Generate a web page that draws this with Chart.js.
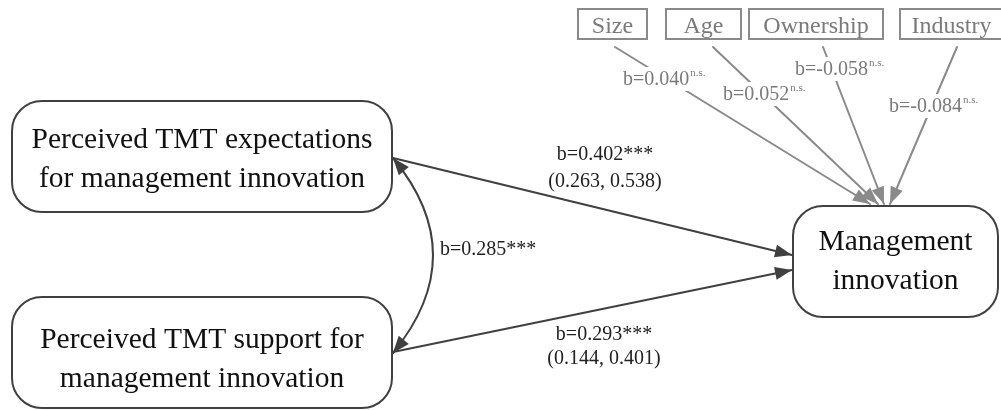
<!DOCTYPE html>
<html>
<head>
<meta charset="utf-8">
<script src="https://cdn.jsdelivr.net/npm/chart.js@4.4.0/dist/chart.umd.min.js"></script>
<style>
  body { margin: 0; background: #fff; }
  #wrap { width: 1001px; height: 410px; position: relative; }
</style>
</head>
<body>
<div id="wrap"><canvas id="pathCanvas"></canvas></div>
<script>
// model data
const constructs = [
  ['Perceived TMT expectations', 'for management innovation'],
  ['Perceived TMT support for', 'management innovation'],
  ['Management', 'innovation']
];
const controls = ['Size', 'Age', 'Ownership', 'Industry'];
const controlB = [0.040, 0.052, -0.058, -0.084];
const controlSig = ['n.s.', 'n.s.', 'n.s.', 'n.s.'];
const pathB = [0.402, 0.293];
const pathLow = [0.263, 0.144];
const pathHigh = [0.538, 0.401];
const pathSig = ['***', '***'];
const corrB = 0.285;
const corrSig = '***';

// layout (in scale units, same as pixels here)
const boxes = [
  { x0: 12, y0: 101, x1: 392, y1: 212, r: 30, dy: 3 },
  { x0: 12, y0: 297, x1: 392, y1: 408, r: 30, dy: 7 },
  { x0: 793, y0: 206, x1: 998, y1: 317, r: 30, dy: 0 }
];
const ctrlBoxes = [
  { x0: 578, x1: 647 }, { x0: 666, x1: 741 }, { x0: 749, x1: 883 }, { x0: 900, x1: 1003 }
];
const ctrlTop = 9, ctrlBottom = 39;
const ctrlStart = [615, 713, 823, 957];
const ctrlTip = [870, 878, 884, 890];
const ctrlLabelPos = [[623, 80], [723, 95], [795, 70], [889, 107]];

const DARK = '#404040';
const GRAY = '#8a8a8a';
const GRAY_TXT = '#7a7a7a';
const SERIF = '"Liberation Serif", "Times New Roman", serif';

function arrowHead(ctx, fx, fy, tx, ty, color) {
  const a = Math.atan2(ty - fy, tx - fx);
  const len = 17, half = 6.5;
  ctx.save();
  ctx.fillStyle = color;
  ctx.beginPath();
  ctx.moveTo(tx, ty);
  ctx.lineTo(tx - len * Math.cos(a) + half * Math.sin(a), ty - len * Math.sin(a) - half * Math.cos(a));
  ctx.lineTo(tx - len * Math.cos(a) - half * Math.sin(a), ty - len * Math.sin(a) + half * Math.cos(a));
  ctx.closePath();
  ctx.fill();
  ctx.restore();
}

function roundBox(ctx, x0, y0, x1, y1, r) {
  ctx.beginPath();
  ctx.moveTo(x0 + r, y0);
  ctx.arcTo(x1, y0, x1, y1, r);
  ctx.arcTo(x1, y1, x0, y1, r);
  ctx.arcTo(x0, y1, x0, y0, r);
  ctx.arcTo(x0, y0, x1, y0, r);
  ctx.closePath();
}

const diagramPlugin = {
  id: 'diagram',
  afterDatasetsDraw(chart) {
    const ctx = chart.ctx;
    const xs = chart.scales.x, ys = chart.scales.y;
    const X = v => xs.getPixelForValue(v);
    const Y = v => ys.getPixelForValue(v);
    ctx.save();
    ctx.lineCap = 'round';

    // control arrows
    controls.forEach((name, i) => {
      const sx = X(ctrlStart[i]), sy = Y(ctrlBottom + 8);
      const tx = X(ctrlTip[i]), ty = Y(boxes[2].y0 - 2);
      ctx.strokeStyle = GRAY;
      ctx.lineWidth = 2;
      ctx.beginPath();
      ctx.moveTo(sx, sy);
      ctx.lineTo(tx, ty);
      ctx.stroke();
      arrowHead(ctx, sx, sy, tx, ty, GRAY);
    });

    // control boxes
    controls.forEach((name, i) => {
      const b = ctrlBoxes[i];
      ctx.fillStyle = '#fff';
      ctx.fillRect(X(b.x0), Y(ctrlTop), X(b.x1) - X(b.x0), Y(ctrlBottom) - Y(ctrlTop));
      ctx.strokeStyle = GRAY;
      ctx.lineWidth = 2;
      ctx.strokeRect(X(b.x0), Y(ctrlTop), X(b.x1) - X(b.x0), Y(ctrlBottom) - Y(ctrlTop));
      ctx.fillStyle = GRAY_TXT;
      ctx.font = '24px ' + SERIF;
      ctx.textAlign = 'center';
      ctx.textBaseline = 'alphabetic';
      ctx.fillText(name, X((b.x0 + b.x1) / 2), Y(ctrlTop + 24));
    });

    // control coefficient labels
    controls.forEach((name, i) => {
      const main = 'b=' + controlB[i].toFixed(3);
      const [lx, ly] = ctrlLabelPos[i];
      ctx.font = '20px ' + SERIF;
      const w1 = ctx.measureText(main).width;
      ctx.font = '11px ' + SERIF;
      const w2 = ctx.measureText(controlSig[i]).width;
      ctx.fillStyle = '#fff';
      ctx.fillRect(X(lx) - 3, Y(ly) - 13, w1 + w2 + 6, 24);
      ctx.fillStyle = GRAY_TXT;
      ctx.textAlign = 'left';
      ctx.textBaseline = 'middle';
      ctx.font = '20px ' + SERIF;
      ctx.fillText(main, X(lx), Y(ly));
      ctx.font = '11px ' + SERIF;
      ctx.fillText(controlSig[i], X(lx) + w1 + 1, Y(ly) - 7);
    });

    // main paths
    const starts = [[393, 158], [393, 352]];
    const tips = [[792, 255], [792, 270]];
    ctx.strokeStyle = DARK;
    ctx.lineWidth = 2;
    starts.forEach((s, i) => {
      ctx.beginPath();
      ctx.moveTo(X(s[0]), Y(s[1]));
      ctx.lineTo(X(tips[i][0]), Y(tips[i][1]));
      ctx.stroke();
      arrowHead(ctx, X(s[0]), Y(s[1]), X(tips[i][0]), Y(tips[i][1]), DARK);
    });

    // covariance curve
    const p0 = [393, 158], pc = [473, 255], p2 = [393, 353];
    ctx.beginPath();
    ctx.moveTo(X(p0[0]), Y(p0[1]));
    ctx.quadraticCurveTo(X(pc[0]), Y(pc[1]), X(p2[0]), Y(p2[1]));
    ctx.stroke();
    arrowHead(ctx, X(pc[0]), Y(pc[1]), X(p0[0]), Y(p0[1]), DARK);
    arrowHead(ctx, X(pc[0]), Y(pc[1]), X(p2[0]), Y(p2[1]), DARK);

    // construct boxes
    ctx.lineWidth = 2;
    boxes.forEach((b, i) => {
      roundBox(ctx, X(b.x0), Y(b.y0), X(b.x1), Y(b.y1), b.r);
      ctx.fillStyle = '#fff';
      ctx.fill();
      ctx.strokeStyle = DARK;
      ctx.stroke();
      ctx.fillStyle = '#111';
      ctx.font = '29.5px ' + SERIF;
      ctx.textAlign = 'center';
      ctx.textBaseline = 'middle';
      const cx = X((b.x0 + b.x1) / 2), cy = Y((b.y0 + b.y1) / 2 + b.dy);
      ctx.fillText(constructs[i][0], cx, cy - 19);
      ctx.fillText(constructs[i][1], cx, cy + 20);
    });

    // path labels
    ctx.fillStyle = '#222';
    ctx.font = '20px ' + SERIF;
    ctx.textAlign = 'center';
    ctx.textBaseline = 'middle';
    const labelPos = [[605, 155, 182], [604, 335, 359]];
    pathB.forEach((b, i) => {
      const [lx, ly1, ly2] = labelPos[i];
      ctx.fillText('b=' + b.toFixed(3) + pathSig[i], X(lx), Y(ly1));
      ctx.fillText('(' + pathLow[i].toFixed(3) + ', ' + pathHigh[i].toFixed(3) + ')', X(lx), Y(ly2));
    });
    ctx.textAlign = 'left';
    ctx.fillText('b=' + corrB.toFixed(3) + corrSig, X(440), Y(250));

    ctx.restore();
  }
};

new Chart(document.getElementById('pathCanvas'), {
  type: 'scatter',
  data: { datasets: [{ data: [], pointRadius: 0 }] },
  options: {
    responsive: true,
    maintainAspectRatio: false,
    animation: false,
    layout: { padding: 0 },
    scales: {
      x: { display: false, min: 0, max: 1001 },
      y: { display: false, min: 0, max: 410, reverse: true }
    },
    plugins: { legend: { display: false }, tooltip: { enabled: false } }
  },
  plugins: [diagramPlugin]
});
</script>
</body>
</html>
